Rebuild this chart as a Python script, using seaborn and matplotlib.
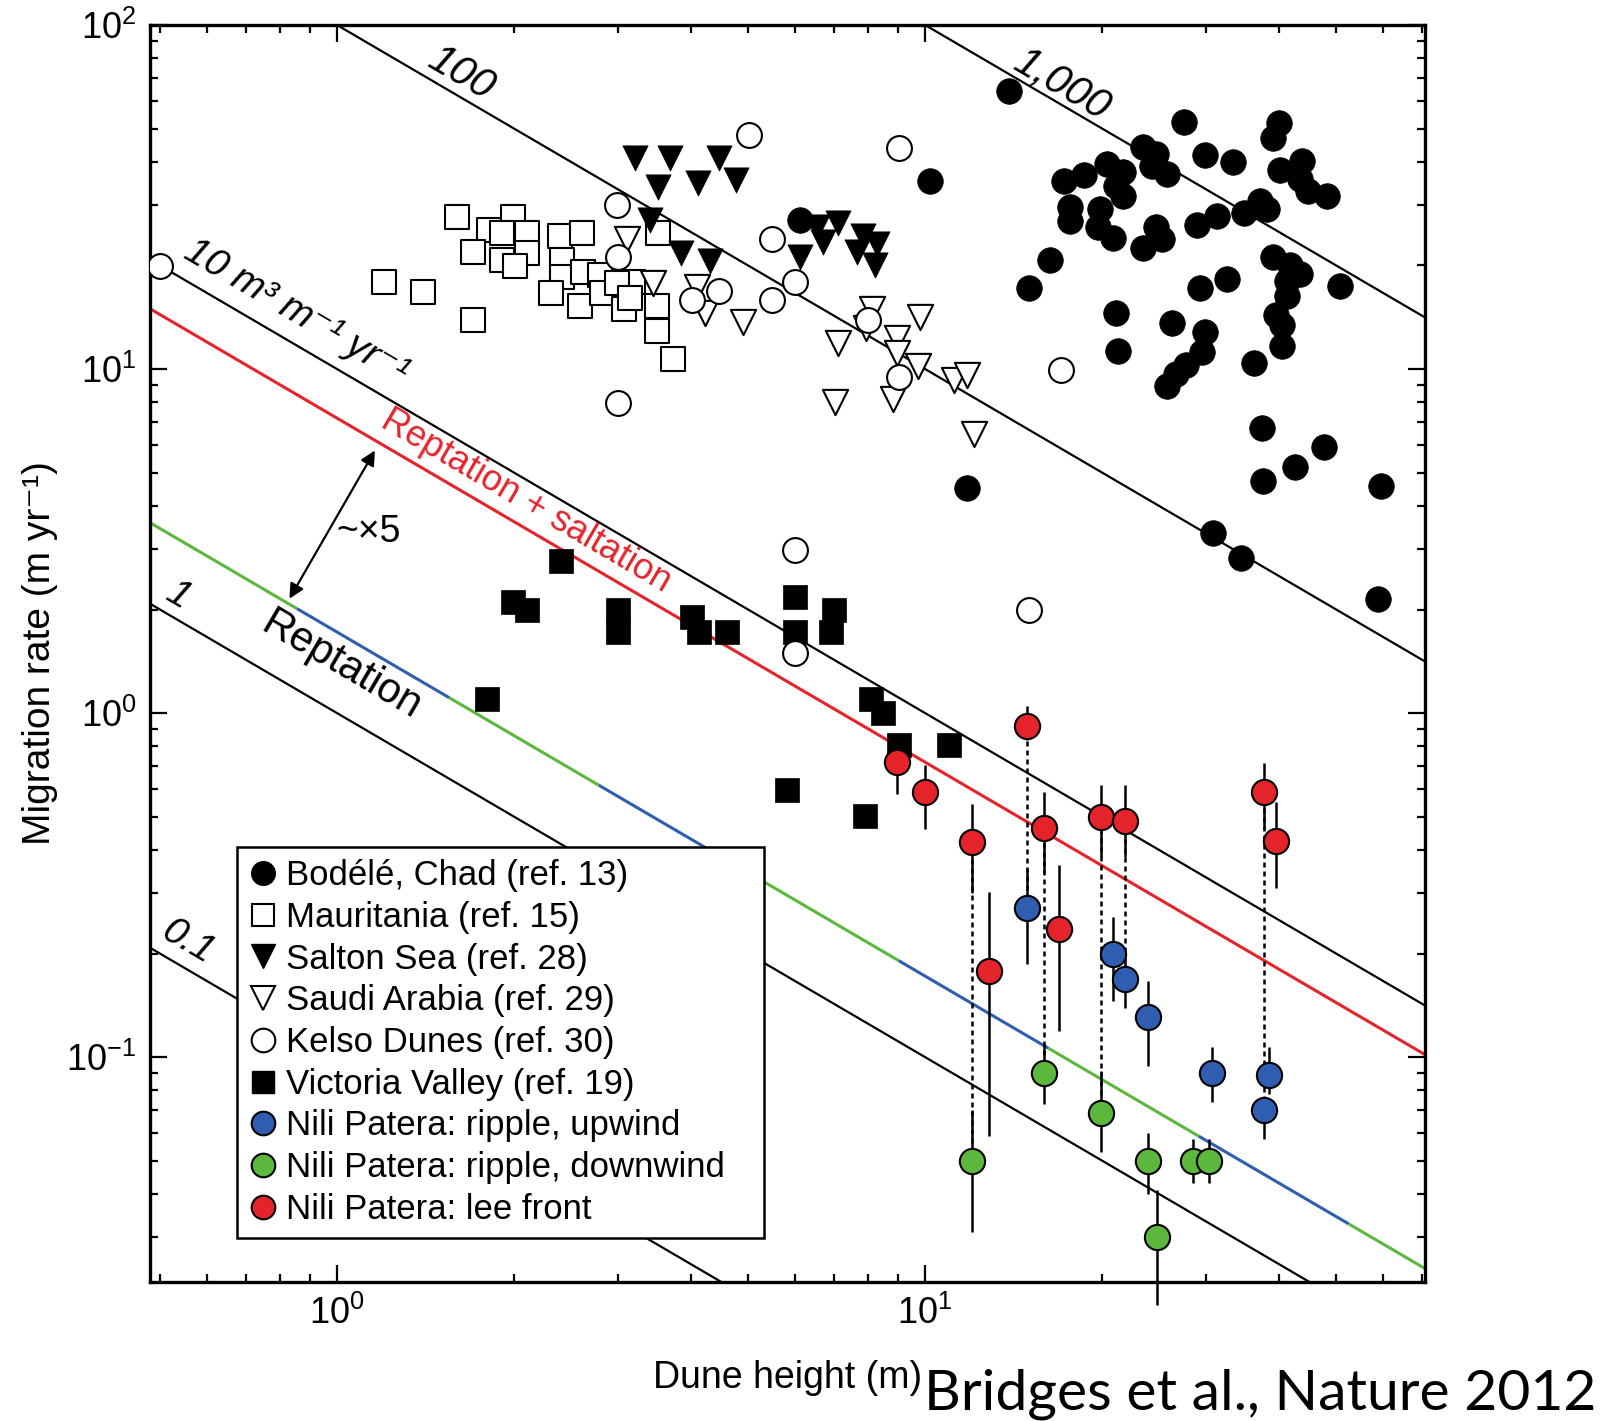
import numpy as np
import pandas as pd
import matplotlib
matplotlib.use('Agg')
import matplotlib.pyplot as plt
import seaborn as sns
from matplotlib.lines import Line2D
from matplotlib.ticker import NullFormatter

# values: dune height (m) and migration rate (m/yr)
bodele_h = [13.9, 27.6, 39.9, 39.1, 23.5, 24.7, 24.3, 25.8, 29.9, 33.4, 17.2, 18.6, 20.4, 21.7, 21.1, 21.7,
            40.2, 43.8, 43.4, 44.8, 48.2, 17.6, 17.6, 19.8, 19.7, 20.9, 23.5, 24.7, 25.3, 29.0, 31.3, 34.8,
            37.1, 38.1, 16.3, 15.0, 39.1, 41.7, 43.4, 41.2, 41.2, 32.6, 29.3, 50.8, 21.1, 26.3, 29.9, 39.5,
            40.4, 40.4, 29.6, 27.8, 26.7, 25.8, 21.3, 36.3, 37.4, 47.6, 42.5, 37.5, 59.5, 30.9, 34.5, 59.0,
            10.2, 11.8, 6.13]
bodele_v = [64.3, 52.3, 51.9, 47.1, 44.3, 42.2, 38.8, 37.0, 41.9, 39.9, 35.2, 36.7, 39.4, 37.5, 34.0, 31.8,
            38.0, 40.2, 35.7, 32.9, 31.8, 29.5, 26.9, 29.2, 25.8, 24.1, 22.5, 25.8, 23.8, 26.2, 27.9, 28.4,
            30.7, 29.2, 20.8, 17.2, 21.1, 20.1, 18.9, 18.0, 16.3, 18.3, 17.2, 17.4, 14.6, 13.6, 12.8, 14.4,
            13.4, 11.7, 11.2, 10.3, 9.68, 8.91, 11.3, 10.4, 6.76, 5.93, 5.20, 4.72, 4.56, 3.34, 2.83, 2.15,
            35.2, 4.50, 27.1]

maur_h = [1.20, 1.40, 1.70, 1.60, 1.81, 1.99, 1.91, 2.10, 1.70, 1.91, 2.10, 2.01, 2.39, 2.61, 2.41, 2.41,
          2.31, 2.62, 2.59, 2.80, 2.82, 3.08, 3.19, 3.51, 3.50, 3.50, 3.72, 2.99, 3.15]
maur_v = [17.9, 16.8, 13.9, 27.7, 25.3, 27.7, 24.8, 24.8, 21.9, 20.7, 21.7, 19.9, 24.3, 24.8, 20.7, 18.5,
          16.6, 19.1, 15.2, 18.8, 16.6, 14.9, 17.9, 24.8, 15.2, 12.9, 10.7, 17.8, 16.1]

salton_h = [3.21, 3.69, 4.47, 3.51, 4.11, 4.77, 3.40, 3.84, 4.31, 6.54, 7.12, 6.70, 6.13, 7.85, 8.27, 7.66, 8.21]
salton_v = [41.0, 41.0, 41.0, 33.8, 34.8, 35.5, 27.1, 21.7, 20.6, 25.8, 26.5, 23.4, 21.1, 24.4, 23.1, 21.9, 20.0]

saudi_h = [3.11, 3.45, 4.09, 4.23, 4.91, 7.94, 8.11, 9.80, 7.12, 8.97, 8.97, 9.72, 11.2, 11.8, 7.04, 8.83, 12.1]
saudi_v = [23.9, 17.8, 17.3, 14.6, 13.7, 13.2, 14.9, 14.2, 11.9, 12.3, 11.1, 10.2, 9.29, 9.61, 8.03, 8.20, 6.48]

kelso_h = [0.500, 5.01, 9.01, 2.99, 3.01, 5.48, 5.48, 6.01, 4.01, 4.47, 8.01, 9.01, 17.0, 3.01, 6.01, 6.01, 15.0]
kelso_v = [19.9, 47.8, 44.0, 29.9, 21.1, 23.9, 15.9, 17.9, 15.9, 16.9, 13.9, 9.48, 9.95, 7.98, 2.97, 1.50, 2.00]

vict_h = [2.40, 1.99, 2.10, 3.00, 3.00, 4.01, 4.13, 4.60, 6.01, 6.01, 7.01, 6.92, 1.80, 8.08, 8.48, 9.01, 11.0,
          5.82, 7.91]
vict_v = [2.77, 2.10, 2.00, 2.00, 1.72, 1.90, 1.72, 1.72, 2.18, 1.72, 2.00, 1.72, 1.10, 1.10, 1.00, 0.810,
          0.810, 0.598, 0.503]

# Nili Patera (Mars) with error ranges
lee_h = [8.95, 10.0, 12.0, 14.9, 15.9, 16.9, 12.85, 19.9, 21.9, 37.7, 39.5]
lee_v = [0.722, 0.589, 0.421, 0.917, 0.464, 0.236, 0.178, 0.499, 0.486, 0.589, 0.426]
lee_lo = [0.581, 0.459, 0.300, 0.833, 0.344, 0.119, 0.059, 0.381, 0.381, 0.459, 0.310]
lee_hi = [0.777, 0.705, 0.543, 1.046, 0.589, 0.361, 0.302, 0.618, 0.618, 0.715, 0.550]

up_h = [14.9, 20.9, 21.9, 23.9, 30.8, 38.5, 37.7]
up_v = [0.271, 0.199, 0.169, 0.131, 0.090, 0.089, 0.070]
up_lo = [0.187, 0.146, 0.139, 0.094, 0.074, 0.078, 0.058]
up_hi = [0.353, 0.256, 0.191, 0.166, 0.107, 0.107, 0.076]

down_h = [12.0, 15.9, 19.9, 23.9, 28.5, 30.4, 24.8]
down_v = [0.050, 0.090, 0.069, 0.050, 0.050, 0.050, 0.030]
down_lo = [0.031, 0.073, 0.053, 0.040, 0.043, 0.043, 0.019]
down_hi = [0.070, 0.109, 0.091, 0.060, 0.058, 0.058, 0.041]

# dotted links between lee front and ripple values of the same dune
link_h = [12.0, 14.9, 15.9, 19.9, 21.9, 37.7]
link_top = [0.421, 0.917, 0.464, 0.499, 0.486, 0.589]
link_bot = [0.050, 0.271, 0.090, 0.069, 0.169, 0.070]

# constant flux lines q = H * v (m3 m-1 yr-1)
flux_levels = [0.1, 1, 10, 100, 1000]
salt_q = 7.2
rept_q = 1.72
rept_breaks = [0.481, 0.855, 1.552, 2.786, 5.01, 9.02, 16.2, 29.2, 52.5, 70.8]

xlim = (0.481, 70.8)
ylim = (0.0222, 100)

RED = '#e5232b'
BLUE = '#2f5db0'
GREEN = '#5bb83d'

sns.set_theme(style='ticks')
plt.rcParams['font.family'] = ['Liberation Sans', 'DejaVu Sans']
plt.rcParams['axes.edgecolor'] = 'black'
plt.rcParams['xtick.color'] = 'black'
plt.rcParams['ytick.color'] = 'black'
plt.rcParams['text.color'] = 'black'
plt.rcParams['axes.labelcolor'] = 'black'

fig = plt.figure(figsize=(16.19, 14.21), dpi=100)
ax = fig.add_axes([0.0927, 0.0978, 0.7875, 0.8846])
ax.set_xscale('log')
ax.set_yscale('log')
ax.set_xlim(*xlim)
ax.set_ylim(*ylim)

hh = np.array(xlim)
for q in flux_levels:
    ax.plot(hh, q / hh, color='black', lw=1.6, zorder=1)
ax.plot(hh, salt_q / hh, color=RED, lw=2.2, zorder=1)
for i in range(len(rept_breaks) - 1):
    seg = np.array(rept_breaks[i:i + 2])
    ax.plot(seg, rept_q / seg, color=GREEN if i % 2 == 0 else BLUE, lw=2.2,
            solid_capstyle='butt', zorder=1)


def draw(h, v, marker, face, size, lw=1.5):
    df = pd.DataFrame({'h': h, 'v': v})
    sns.scatterplot(data=df, x='h', y='v', ax=ax, marker=marker, s=size, color=face,
                    edgecolor='black', linewidth=lw, zorder=3, legend=False)


draw(bodele_h, bodele_v, 'o', 'black', 340, lw=0.5)
draw(vict_h, vict_v, 's', 'black', 300, lw=0.5)
draw(maur_h, maur_v, 's', 'white', 300)
draw(saudi_h, saudi_v, 'v', 'white', 330)
draw(salton_h, salton_v, 'v', 'black', 330, lw=0.5)
draw(kelso_h, kelso_v, 'o', 'white', 320)

ax.vlines(link_h, link_bot, link_top, colors='black', lw=1.8, linestyles=(0, (2.0, 1.6)), zorder=2)
for lo, hi, h in [(lee_lo, lee_hi, lee_h), (up_lo, up_hi, up_h), (down_lo, down_hi, down_h)]:
    ax.vlines(h, lo, hi, colors='black', lw=1.8, zorder=2.5, clip_on=False)
draw(lee_h, lee_v, 'o', RED, 330)
draw(up_h, up_v, 'o', BLUE, 330)
draw(down_h, down_v, 'o', GREEN, 330)

ax.tick_params(which='both', direction='in', top=True, right=True, width=1.6)
ax.tick_params(which='major', length=12, labelsize=26, pad=10)
ax.tick_params(which='minor', length=6)
ax.xaxis.set_minor_formatter(NullFormatter())
ax.yaxis.set_minor_formatter(NullFormatter())
for sp in ax.spines.values():
    sp.set_linewidth(2.4)
ax.set_xlabel('Dune height (m)', fontsize=27, labelpad=20)
ax.set_ylabel('Migration rate (m yr\u207b\u00b9)', fontsize=28, labelpad=6)

# angle of a slope -1 line on screen
p1 = ax.transData.transform((1.0, 1.0))
p2 = ax.transData.transform((10.0, 0.1))
ang = np.degrees(np.arctan2(p2[1] - p1[1], p2[0] - p1[0]))

labels = [
    (1.63, 72.0, '100', 30, 'italic', 'black'),
    (17.1, 67.0, '1,000', 30, 'italic', 'black'),
    (0.852, 14.6, '10 m\u00b3 m\u207b\u00b9 yr\u207b\u00b9', 28, 'italic', 'black'),
    (0.537, 2.19, '1', 28, 'italic', 'black'),
    (0.558, 0.216, '0.1', 28, 'italic', 'black'),
    (2.10, 4.13, 'Reptation + saltation', 26, 'normal', RED),
    (1.016, 1.37, 'Reptation', 30, 'normal', 'black'),
]
for x, y, s, fs, st, c in labels:
    ax.text(x, y, s, rotation=ang, rotation_mode='anchor', ha='center', va='center',
            fontsize=fs, style=st, color=c, zorder=4)

ax.annotate('', xy=(0.83, 2.15), xytext=(1.16, 5.8),
            arrowprops=dict(arrowstyle='<|-|>', color='black', lw=1.6, mutation_scale=22,
                            shrinkA=0, shrinkB=0), zorder=4)
ax.text(1.133, 3.36, '~\u00d75', fontsize=27, ha='center', va='center', zorder=4)

handles = [
    Line2D([], [], ls='none', marker='o', ms=17, mfc='black', mec='black'),
    Line2D([], [], ls='none', marker='s', ms=16, mfc='white', mec='black', mew=1.5),
    Line2D([], [], ls='none', marker='v', ms=17, mfc='black', mec='black'),
    Line2D([], [], ls='none', marker='v', ms=17, mfc='white', mec='black', mew=1.5),
    Line2D([], [], ls='none', marker='o', ms=17, mfc='white', mec='black', mew=1.5),
    Line2D([], [], ls='none', marker='s', ms=16, mfc='black', mec='black'),
    Line2D([], [], ls='none', marker='o', ms=17, mfc=BLUE, mec='black', mew=1.5),
    Line2D([], [], ls='none', marker='o', ms=17, mfc=GREEN, mec='black', mew=1.5),
    Line2D([], [], ls='none', marker='o', ms=17, mfc=RED, mec='black', mew=1.5),
]
names = ['Bod\u00e9l\u00e9, Chad (ref. 13)', 'Mauritania (ref. 15)', 'Salton Sea (ref. 28)',
         'Saudi Arabia (ref. 29)', 'Kelso Dunes (ref. 30)', 'Victoria Valley (ref. 19)',
         'Nili Patera: ripple, upwind', 'Nili Patera: ripple, downwind', 'Nili Patera: lee front']
leg = ax.legend(handles, names, loc='upper left', bbox_to_anchor=(0.0682, 0.0, 0.4133, 0.346),
                mode='expand', borderaxespad=0, fontsize=25, handlelength=0.8, handletextpad=0.25,
                labelspacing=0.25, borderpad=0.35, fancybox=False, framealpha=1, edgecolor='black')
leg.get_frame().set_linewidth(1.8)
leg.set_zorder(10)

fig.text(0.5707, 0.0084, 'Bridges et al., Nature 2012', fontsize=41, family=['Lato', 'DejaVu Sans'],
         ha='left', va='baseline')

fig.savefig('out.png', dpi=100, facecolor='white')
